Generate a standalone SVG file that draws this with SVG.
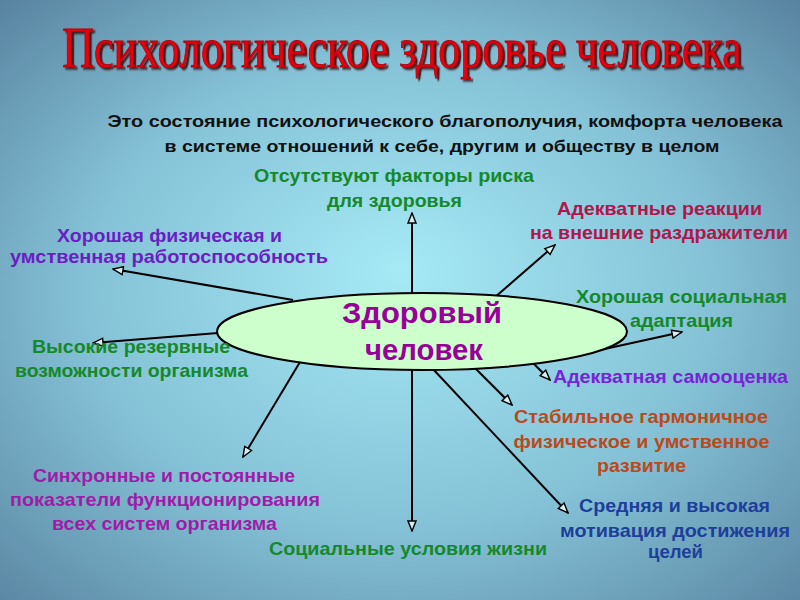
<svg xmlns="http://www.w3.org/2000/svg" width="800" height="600" viewBox="0 0 800 600">
<defs>
<radialGradient id="bg" cx="50%" cy="52%" r="72%" fx="50%" fy="45%">
<stop offset="0" stop-color="#a6eaf6"/>
<stop offset="0.55" stop-color="#84c1d6"/>
<stop offset="1" stop-color="#5883a0"/>
</radialGradient>
<filter id="sh" filterUnits="userSpaceOnUse" x="-600" y="-80" width="1200" height="120">
<feDropShadow dx="3" dy="2" stdDeviation="0.8" flood-color="#300" flood-opacity="0.85"/>
</filter>
<marker id="ah" viewBox="0 0 12 10" refX="11" refY="5" markerWidth="12" markerHeight="10" markerUnits="userSpaceOnUse" orient="auto">
<path d="M1,1 L11,5 L1,9 Z" fill="#d4f0f3" stroke="#000" stroke-width="1.4" stroke-linejoin="miter"/>
</marker>
<style>
.lbl{font-family:"Liberation Sans",Arial,sans-serif;font-weight:bold;font-size:19px;text-anchor:middle}
.g{fill:#15892a}
.cr{fill:#b0164c}
.pu{fill:#6a1ec4}
.vi{fill:#7624d8}
.or{fill:#b84a1c}
.mg{fill:#a01ca8}
.bl{fill:#1c3f9a}
.con line{stroke:#000;stroke-width:2;marker-end:url(#ah)}
</style>
</defs>
<rect width="800" height="600" fill="url(#bg)"/>

<g id="title" transform="translate(402,67) scale(0.75,1)" filter="url(#sh)">
<text x="0" y="0" font-family="'Liberation Serif','Times New Roman',serif" font-size="58" fill="#e8000a" stroke="#b00008" stroke-width="0.9" text-anchor="middle" textLength="906" lengthAdjust="spacingAndGlyphs">Психологическое здоровье человека</text>
</g>

<g id="subtitle" font-family="'Liberation Sans',Arial,sans-serif" font-size="17" font-weight="bold" fill="#111" text-anchor="middle">
<text x="445" y="127" textLength="675" lengthAdjust="spacingAndGlyphs">Это состояние психологического благополучия, комфорта человека</text>
<text x="442" y="152" textLength="555" lengthAdjust="spacingAndGlyphs">в системе отношений к себе, другим и обществу в целом</text>
</g>

<g id="connectors" class="con">
<line x1="412" y1="293" x2="412" y2="213"/>
<line x1="494" y1="298" x2="555" y2="245"/>
<line x1="600" y1="350" x2="682" y2="332"/>
<line x1="533" y1="363" x2="550" y2="380"/>
<line x1="475" y1="368" x2="512" y2="405"/>
<line x1="432" y1="368" x2="568" y2="513"/>
<line x1="412" y1="370" x2="412" y2="531"/>
<line x1="300" y1="362" x2="243" y2="457"/>
<line x1="218" y1="333" x2="93" y2="343"/>
<line x1="293" y1="300" x2="113" y2="269"/>
</g>

<g id="center">
<ellipse cx="422" cy="331.5" rx="205" ry="38.5" fill="#ccffcc" stroke="#000" stroke-width="2"/>
<text x="422" y="323" font-family="'Liberation Sans',Arial,sans-serif" font-weight="bold" font-size="29" fill="#990099" text-anchor="middle" textLength="160" lengthAdjust="spacingAndGlyphs">Здоровый</text>
<text x="424" y="360" font-family="'Liberation Sans',Arial,sans-serif" font-weight="bold" font-size="29" fill="#990099" text-anchor="middle" textLength="118" lengthAdjust="spacingAndGlyphs">человек</text>
</g>

<g id="n-risk" class="lbl g">
<text x="394" y="182" textLength="280" lengthAdjust="spacingAndGlyphs">Отсутствуют факторы риска</text>
<text x="394.5" y="207" textLength="135" lengthAdjust="spacingAndGlyphs">для здоровья</text>
</g>
<g id="n-react" class="lbl cr">
<text x="659.5" y="215" textLength="205" lengthAdjust="spacingAndGlyphs">Адекватные реакции</text>
<text x="659" y="239" textLength="258" lengthAdjust="spacingAndGlyphs">на внешние раздражители</text>
</g>
<g id="n-phys" class="lbl pu">
<text x="169.5" y="242" textLength="225" lengthAdjust="spacingAndGlyphs">Хорошая физическая и</text>
<text x="169" y="263" textLength="318" lengthAdjust="spacingAndGlyphs">умственная работоспособность</text>
</g>
<g id="n-social" class="lbl g">
<text x="681.5" y="303" textLength="211" lengthAdjust="spacingAndGlyphs">Хорошая социальная</text>
<text x="681.5" y="327" textLength="103" lengthAdjust="spacingAndGlyphs">адаптация</text>
</g>
<g id="n-reserve" class="lbl g">
<text x="131" y="353" textLength="198" lengthAdjust="spacingAndGlyphs">Высокие резервные</text>
<text x="131.5" y="377" textLength="233" lengthAdjust="spacingAndGlyphs">возможности организма</text>
</g>
<g id="n-self" class="lbl vi">
<text x="670.5" y="383" textLength="235" lengthAdjust="spacingAndGlyphs">Адекватная самооценка</text>
</g>
<g id="n-stable" class="lbl or">
<text x="641" y="423" textLength="254" lengthAdjust="spacingAndGlyphs">Стабильное гармоничное</text>
<text x="641.5" y="448" textLength="256" lengthAdjust="spacingAndGlyphs">физическое и умственное</text>
<text x="641.5" y="472" textLength="89" lengthAdjust="spacingAndGlyphs">развитие</text>
</g>
<g id="n-sync" class="lbl mg">
<text x="164" y="482" textLength="262" lengthAdjust="spacingAndGlyphs">Синхронные и постоянные</text>
<text x="165" y="506" textLength="310" lengthAdjust="spacingAndGlyphs">показатели функционирования</text>
<text x="164.5" y="530" textLength="225" lengthAdjust="spacingAndGlyphs">всех систем организма</text>
</g>
<g id="n-life" class="lbl g">
<text x="408" y="555" textLength="278" lengthAdjust="spacingAndGlyphs">Социальные условия жизни</text>
</g>
<g id="n-motiv" class="lbl bl">
<text x="674.5" y="512" textLength="191" lengthAdjust="spacingAndGlyphs">Средняя и высокая</text>
<text x="675" y="537" textLength="230" lengthAdjust="spacingAndGlyphs">мотивация достижения</text>
<text x="675.5" y="558" textLength="55" lengthAdjust="spacingAndGlyphs">целей</text>
</g>
</svg>
